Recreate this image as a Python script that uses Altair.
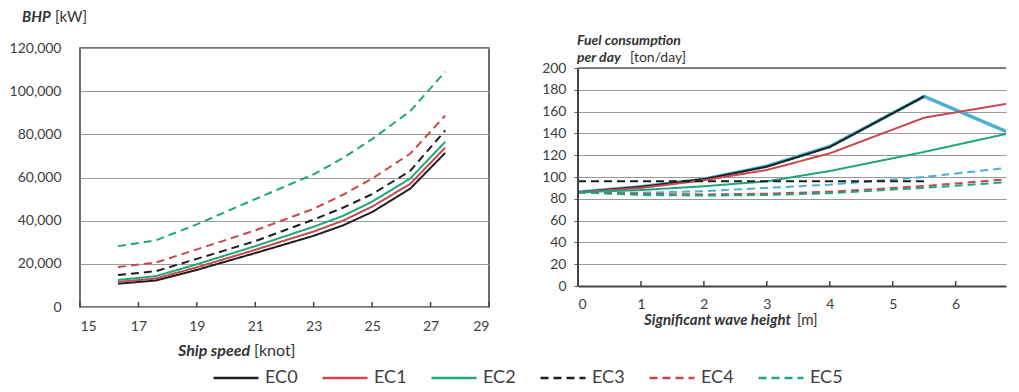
import altair as alt
import pandas as pd

# ---------------- data ----------------
series = ["EC0", "EC1", "EC2", "EC3", "EC4", "EC5"]
series_colors = ["#1e1e1e", "#c9474d", "#1fa67f", "#1e1e1e", "#c9474d", "#1fa67f"]
series_dashes = [[1, 0], [1, 0], [1, 0], [8, 5], [8, 5], [8, 5]]

# Left panel: BHP [kW] vs ship speed [knot]
speed = [16.3, 17.6, 19.0, 21.0, 23.0, 24.0, 25.0, 26.3, 27.5]
bhp_ec0 = [10800, 12300, 17200, 25000, 33000, 37800, 44000, 54800, 71400]
bhp_ec1 = [11600, 13200, 18400, 26500, 35000, 40000, 46500, 57000, 73800]
bhp_ec2 = [12500, 14300, 19800, 28200, 37200, 42200, 48800, 59500, 76500]
bhp_ec3 = [14800, 16600, 22300, 30500, 40500, 46000, 52300, 63000, 81800]
bhp_ec4 = [18500, 20600, 26700, 35500, 45500, 52000, 59500, 71000, 88700]
bhp_ec5 = [28200, 30900, 38300, 50000, 61500, 69000, 77800, 90700, 109000]
left_values = [bhp_ec0, bhp_ec1, bhp_ec2, bhp_ec3, bhp_ec4, bhp_ec5]

# Right panel: fuel consumption per day [ton/day] vs significant wave height [m]
wave = [0, 1, 2, 3, 4, 5.5, 7]
fuel_ec0 = [86, 91, 98, 109.5, 127.5, 174, None]
fuel_ec1 = [86, 90, 97, 106.4, 121.7, 154.4, 169]
fuel_ec2 = [86, 88, 91.5, 96, 105.5, 123, 142]
fuel_ec3 = [96, 96, 96, 96, 96, 96, None]
fuel_ec4 = [86, 84.5, 84, 84.7, 86.5, 91.7, 98.8]
fuel_ec5 = [86, 83.5, 83, 83.5, 85.2, 90, 96]
right_values = [fuel_ec0, fuel_ec1, fuel_ec2, fuel_ec3, fuel_ec4, fuel_ec5]
fuel_blue_solid = [86, 91, 98, 110, 128, 174, 137]
fuel_blue_dashed = [86, 85.5, 87, 90, 93, 100, 109.5]
blue = "#4bafcf"

left_xticks = [15, 17, 19, 21, 23, 25, 27, 29]
left_yticks = [0, 20000, 40000, 60000, 80000, 100000, 120000]
right_xticks = [0, 1, 2, 3, 4, 5, 6, 7]
right_yticks = [0, 20, 40, 60, 80, 100, 120, 140, 160, 180, 200]

left_df = pd.DataFrame(
    [{"series": s, "speed": x, "bhp": v}
     for s, vals in zip(series, left_values) for x, v in zip(speed, vals)]
)
right_df = pd.DataFrame(
    [{"series": s, "wave": x, "fuel": v}
     for s, vals in zip(series, right_values) for x, v in zip(wave, vals) if v is not None]
)
blue_solid_df = pd.DataFrame({"wave": wave, "fuel": fuel_blue_solid})
blue_dashed_df = pd.DataFrame({"wave": wave, "fuel": fuel_blue_dashed})

# ---------------- styling ----------------
FONT = "Lato"
TXT = "#404040"
LW, LH = 409, 259
RW, RH = 428, 238            # right plot area includes 20px of empty space above the 200 line
R_XMAX = 6.8
R_YMAX = 200 * RH / (RH - 20)

# legend position is relative to the left plot's origin
legend = alt.Legend(
    title=None, orient="none", legendX=132, legendY=306, direction="horizontal",
    columns=6, symbolType="stroke", symbolSize=2025, symbolStrokeWidth=2.5,
    labelFont=FONT, labelFontSize=18, labelColor=TXT, columnPadding=19, labelOffset=5,
)
color_enc = alt.Color("series:N", scale=alt.Scale(domain=series, range=series_colors), legend=legend)
dash_enc = alt.StrokeDash("series:N", scale=alt.Scale(domain=series, range=series_dashes), legend=legend)


def label(text, x, y, bold_italic=False, size=14):
    return alt.Chart(pd.DataFrame({"t": [text]})).mark_text(
        align="left", baseline="middle", font=FONT, fontSize=size,
        fontStyle="italic" if bold_italic else "normal",
        fontWeight="bold" if bold_italic else "normal",
        color="#333333",
    ).encode(text="t:N", x=alt.value(x), y=alt.value(y))


# ---------------- left chart ----------------
x_left = alt.X(
    "speed:Q", scale=alt.Scale(domain=[15, 29]),
    axis=alt.Axis(values=left_xticks, title=None, grid=False, domain=False, ticks=False,
                  labelPadding=12, labelFont=FONT, labelFontSize=14, labelColor=TXT),
)
y_left = alt.Y(
    "bhp:Q", scale=alt.Scale(domain=[0, 120000]),
    axis=alt.Axis(values=left_yticks, format=",.0f", title=None, ticks=False, domain=False,
                  gridColor="#9a9a9a", gridWidth=1, labelPadding=19, labelOverlap=False,
                  labelFont=FONT, labelFontSize=14, labelColor=TXT),
)
left_lines = alt.Chart(left_df).mark_line(strokeWidth=2, clip=True).encode(
    x=x_left, y=y_left, color=color_enc, strokeDash=dash_enc, order="speed:Q"
)
left_tick_marks = alt.Chart(pd.DataFrame({"speed": left_xticks})).mark_rule(
    color="#444444", strokeWidth=1.5
).encode(x=x_left, y=alt.value(LH - 5), y2=alt.value(LH))

left = alt.layer(
    left_lines,
    left_tick_marks,
    label("BHP", -58, -31, True, 15),
    label("[kW]", -25, -31, False, 15),
    label("Ship speed", 98, 303, True, 16),
    label("[knot]", 174, 303, False, 16),
).properties(width=LW, height=LH, view=alt.ViewBackground(stroke="#4a4a4a", strokeWidth=1.6))

# ---------------- right chart ----------------
x_right = alt.X(
    "wave:Q", scale=alt.Scale(domain=[0, R_XMAX], nice=False),
    axis=alt.Axis(values=right_xticks, title=None, grid=False, ticks=False,
                  domainColor="#444444", domainWidth=2,
                  labelPadding=11, labelFont=FONT, labelFontSize=14, labelColor=TXT),
)
y_right = alt.Y(
    "fuel:Q", scale=alt.Scale(domain=[0, R_YMAX], nice=False),
    axis=alt.Axis(values=right_yticks, title=None, tickSize=4, tickColor="#555555",
                  domain=False, gridColor="#9a9a9a", gridWidth=1, labelPadding=8,
                  labelOverlap=False, labelFont=FONT, labelFontSize=14, labelColor=TXT),
)
blue_solid = alt.Chart(blue_solid_df).mark_line(strokeWidth=3.5, clip=True, color=blue).encode(
    x=x_right, y=y_right
)
blue_dashed = alt.Chart(blue_dashed_df).mark_line(
    strokeWidth=2, clip=True, color=blue, strokeDash=[8, 5]
).encode(x=x_right, y=y_right)
right_lines = alt.Chart(right_df).mark_line(strokeWidth=2, clip=True).encode(
    x=x_right, y=y_right, color=color_enc, strokeDash=dash_enc, order="wave:Q"
)
right_tick_marks = alt.Chart(pd.DataFrame({"wave": right_xticks[:-1]})).mark_rule(
    color="#444444", strokeWidth=1.5, clip=True
).encode(x=x_right, y=alt.value(RH - 5), y2=alt.value(RH))
right_yaxis_line = alt.Chart(pd.DataFrame({"fuel": [0], "fuel_top": [200]})).mark_rule(
    color="#444444", strokeWidth=2
).encode(x=alt.value(0), y=y_right, y2="fuel_top:Q")
right_top_line = alt.Chart(pd.DataFrame({"fuel": [200]})).mark_rule(
    color="#666666", strokeWidth=1.5
).encode(x=alt.value(0), x2=alt.value(RW), y=y_right)

right = alt.layer(
    blue_solid,
    blue_dashed,
    right_lines,
    right_tick_marks,
    right_yaxis_line,
    right_top_line,
    label("Fuel consumption", -1, -7, True, 14),
    label("per day", -1, 10, True, 14),
    label("[ton/day]", 52, 10, False, 14),
    label("Significant wave height", 66, 272, True, 15),
    label("[m]", 219, 272, False, 15),
).properties(width=RW, height=RH, view=alt.ViewBackground(stroke=None))

chart = (
    alt.hconcat(left, right, spacing=50)
    .resolve_scale(color="shared", strokeDash="shared")
    .properties(padding={"left": 0, "top": 1, "right": 0, "bottom": 0})
    .configure_view(stroke=None)
)

chart.save("out.html", embed_options={"renderer": "svg", "actions": False})
